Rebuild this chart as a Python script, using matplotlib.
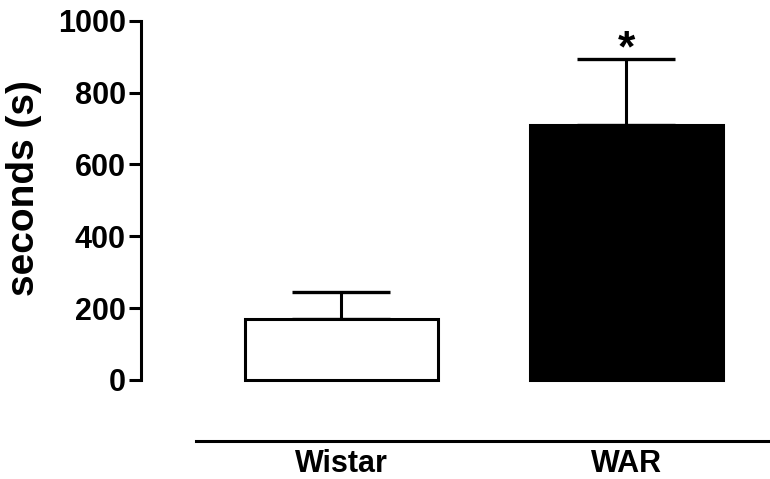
import matplotlib.pyplot as plt

# Group means and SEM (seconds)
groups = ['Wistar', 'WAR']
means = [170, 710]
sems = [75, 184]
face_colors = ['white', 'black']

plt.rcParams['font.family'] = ['Liberation Sans', 'DejaVu Sans']
plt.rcParams['font.weight'] = 'bold'

fig = plt.figure(figsize=(7.70, 4.79), dpi=100)
ax = fig.add_axes([141 / 770, 0.0793, 1 - 141 / 770, 0.8998])

x = range(len(groups))
ax.bar(x, means, width=0.677, color=face_colors, edgecolor='black',
       linewidth=2.2, zorder=2)
ax.errorbar(x, means, yerr=[[0] * len(sems), sems], fmt='none',
            ecolor='black', elinewidth=2.2, capsize=35, capthick=2.4, zorder=1)

# significance mark above WAR
ax.text(1, means[1] + sems[1] - 8, '*', ha='center', va='baseline',
        fontsize=32, fontweight='bold')

ax.set_xlim(-0.702, 1.505)
ax.set_ylim(-170, 1030)

ax.spines['top'].set_visible(False)
ax.spines['right'].set_visible(False)
ax.spines['left'].set_bounds(0, 1000)
ax.spines['left'].set_linewidth(2.2)
ax.spines['bottom'].set_position(('data', -170))
ax.spines['bottom'].set_bounds(-0.509, 1.505)
ax.spines['bottom'].set_linewidth(2.2)

ax.set_yticks([0, 200, 400, 600, 800, 1000])
ax.set_xticks(list(x))
ax.set_xticklabels(groups)
ax.tick_params(axis='y', length=9, width=2.2, pad=2, labelsize=22)
ax.tick_params(axis='x', length=0, pad=6, labelsize=22)

fig.text(24 / 770, 1 - 188 / 479, 'seconds (s)', rotation=90, ha='center',
         va='center', fontsize=28, fontweight='bold')

fig.savefig('out.png', dpi=100)
